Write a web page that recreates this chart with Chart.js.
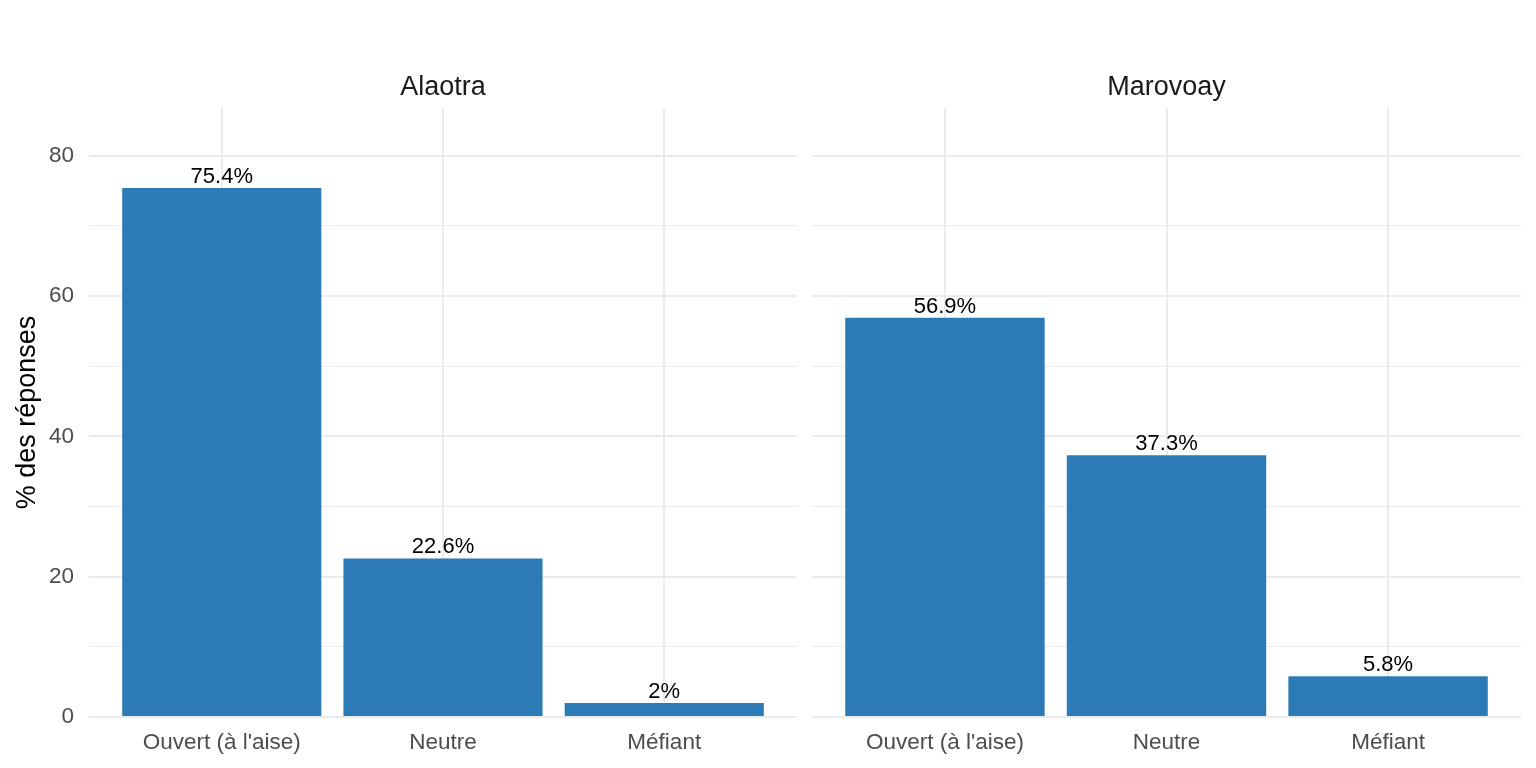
<!DOCTYPE html>
<html>
<head>
<meta charset="utf-8">
<script src="https://cdn.jsdelivr.net/npm/chart.js@4/dist/chart.umd.min.js"></script>
<style>
  body { margin: 0; background: #fff; }
  canvas { position: absolute; top: 0; }
  #left { left: 0; }
  #right { left: 812px; }
</style>
</head>
<body>
<canvas id="left" width="800" height="768"></canvas>
<canvas id="right" width="724" height="768"></canvas>
<script>
const categories = ['Ouvert (à l\'aise)', 'Neutre', 'Méfiant'];
const panels = ['Alaotra', 'Marovoay'];
const alaotraValues = [75.4, 22.6, 2];
const marovoayValues = [56.9, 37.3, 5.8];
const yTicks = [0, 10, 20, 30, 40, 50, 60, 70, 80];
const yMax = 86.8;

Chart.defaults.font.family = "'Liberation Sans', Arial, sans-serif";

// value labels above each bar + panel strip title
const barLabels = {
  id: 'barLabels',
  afterDatasetsDraw(chart) {
    const ctx = chart.ctx;
    const meta = chart.getDatasetMeta(0);
    const vals = chart.data.datasets[0].data;
    ctx.save();
    ctx.font = '22px "Liberation Sans", Arial, sans-serif';
    ctx.fillStyle = '#000';
    ctx.textAlign = 'center';
    ctx.textBaseline = 'alphabetic';
    meta.data.forEach((bar, i) => {
      ctx.fillText(vals[i].y + '%', bar.x, bar.y - 5);
    });
    const area = chart.chartArea;
    ctx.font = '27px "Liberation Sans", Arial, sans-serif';
    ctx.fillStyle = '#1A1A1A';
    ctx.fillText(chart.options.plugins.panelTitle, (area.left + area.right) / 2, 95);
    ctx.restore();
  }
};

function makePanel(id, title, values, showY, padRight) {
  const ctx = document.getElementById(id).getContext('2d');
  return new Chart(ctx, {
    type: 'bar',
    data: {
      datasets: [{
        data: values.map((v, i) => ({ x: i, y: v })),
        backgroundColor: '#2C7BB6',
        borderWidth: 0,
        barPercentage: 0.9,
        categoryPercentage: 1
      }]
    },
    options: {
      responsive: false,
      animation: false,
      layout: { padding: { top: 108, right: padRight, left: 0, bottom: 0 } },
      plugins: {
        legend: { display: false },
        tooltip: { enabled: false },
        panelTitle: title
      },
      scales: {
        x: {
          type: 'linear',
          min: -0.6,
          max: 2.6,
          offset: false,
          afterBuildTicks: (axis) => { axis.ticks = categories.map((c, i) => ({ value: i })); },
          afterFit: (axis) => { axis.height = 51; },
          ticks: {
            callback: (v) => categories[v],
            color: '#4D4D4D',
            font: { size: 22.5 },
            padding: 12,
            maxRotation: 0,
            autoSkip: false
          },
          grid: { color: '#EBEBEB', lineWidth: 2, drawTicks: false, offset: false },
          border: { display: false }
        },
        y: {
          min: 0,
          max: yMax,
          afterBuildTicks: (axis) => { axis.ticks = yTicks.map(v => ({ value: v })); },
          afterFit: (axis) => { axis.width = showY ? 89 : 0; },
          ticks: {
            display: showY,
            callback: (v) => (v % 20 === 0 ? v : ''),
            color: '#4D4D4D',
            font: { size: 22.5 },
            padding: 15
          },
          grid: {
            color: '#EBEBEB',
            lineWidth: (c) => (c.tick && c.tick.value % 20 === 0 ? 2 : 1),
            drawTicks: false
          },
          border: { display: false },
          title: {
            display: showY,
            text: '% des réponses',
            color: '#000',
            font: { size: 27 },
            padding: { top: 11, bottom: 0 }
          }
        }
      }
    },
    plugins: [barLabels]
  });
}

makePanel('left', panels[0], alaotraValues, true, 3);
makePanel('right', panels[1], marovoayValues, false, 15);
</script>
</body>
</html>
